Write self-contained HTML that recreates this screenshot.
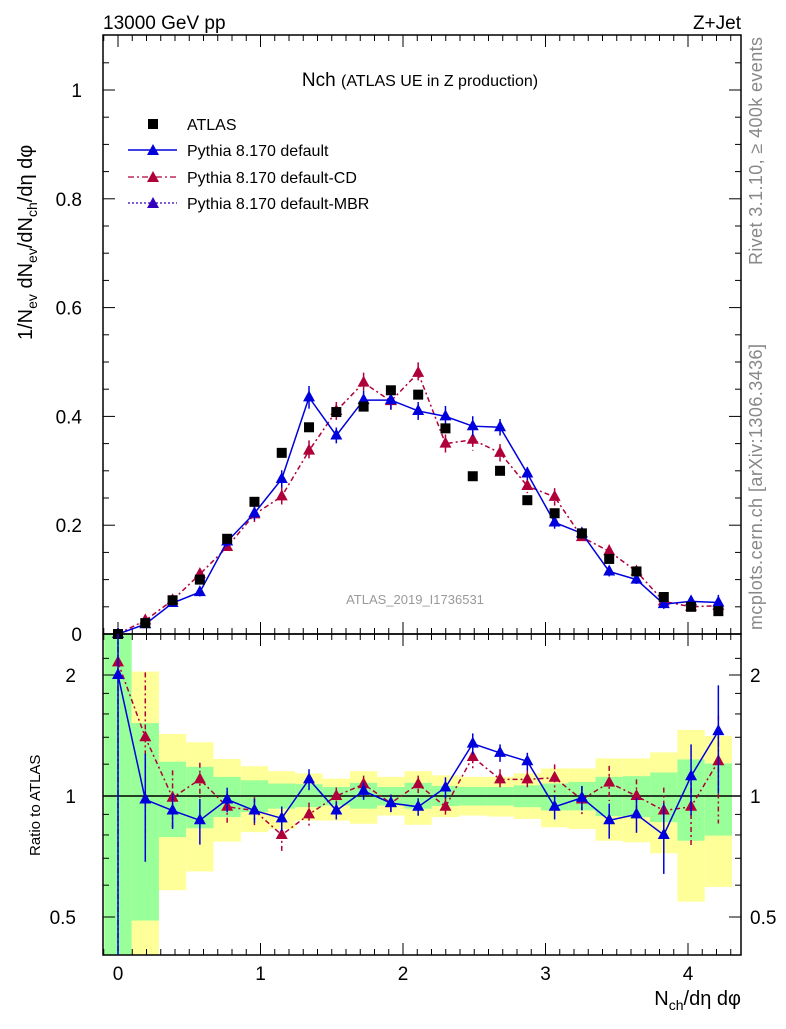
<!DOCTYPE html>
<html><head><meta charset="utf-8"><style>
body{margin:0;background:#fff;}
svg text{font-family:"Liberation Sans",sans-serif;}
</style></head><body>
<svg id="c" width="786" height="1024" viewBox="0 0 786 1024" xmlns="http://www.w3.org/2000/svg">
<text x="103" y="29" font-size="19">13000 GeV pp</text>
<text x="741" y="29" font-size="19" text-anchor="end">Z+Jet</text>
<text x="420" y="86" font-size="19" text-anchor="middle">Nch <tspan font-size="16">(ATLAS UE in Z production)</tspan></text>
<text x="415" y="604" font-size="13" fill="#999" text-anchor="middle">ATLAS_2019_I1736531</text>
<text transform="translate(762,265) rotate(-90)" font-size="18" fill="#888" textLength="228">Rivet 3.1.10, ≥ 400k events</text>
<text transform="translate(762,630) rotate(-90)" font-size="18" fill="#888" textLength="286">mcplots.cern.ch [arXiv:1306.3436]</text>
<text transform="translate(32,340) rotate(-90)" font-size="20">1/N<tspan font-size="14" dy="5">ev</tspan><tspan dy="-5"> dN</tspan><tspan font-size="14" dy="5">ev</tspan><tspan dy="-5">/dN</tspan><tspan font-size="14" dy="5">ch</tspan><tspan dy="-5">/dη dφ</tspan></text>
<text transform="translate(40,856) rotate(-90)" font-size="15">Ratio to ATLAS</text>
<text x="741" y="1005" font-size="20" text-anchor="end">N<tspan font-size="14" dy="5">ch</tspan><tspan dy="-5">/dη dφ</tspan></text>
<g id="legend">
<rect x="148" y="119" width="10" height="10" fill="#000"/>
<text x="187" y="130" font-size="16">ATLAS</text>
<line x1="128" y1="150" x2="177" y2="150" stroke="#0000dd" stroke-width="1.5"/>
<polygon points="153,144 147,155 159,155" fill="#0000dd"/>
<text x="187" y="156" font-size="16">Pythia 8.170 default</text>
<line x1="128" y1="177" x2="177" y2="177" stroke="#b0003a" stroke-width="1.2" stroke-dasharray="6,3,2,3"/>
<polygon points="153,171 147,182 159,182" fill="#b0003a"/>
<text x="187" y="183" font-size="16">Pythia 8.170 default-CD</text>
<line x1="128" y1="203" x2="177" y2="203" stroke="#3300bb" stroke-width="1.2" stroke-dasharray="2,2"/>
<polygon points="153,197 147,208 159,208" fill="#3300bb"/>
<text x="187" y="209" font-size="16">Pythia 8.170 default-MBR</text>
</g>
<g id="g"></g>
</svg>
<script>
const step = 0.1915;
const atlas = [0.0,0.02,0.062,0.1,0.175,0.243,0.333,0.38,0.408,0.418,0.448,0.44,0.378,0.29,0.3,0.246,0.222,0.185,0.138,0.115,0.068,0.05,0.042];
const pyDefault = [0.0,0.018,0.057,0.077,0.17,0.222,0.285,0.435,0.365,0.43,0.43,0.41,0.4,0.382,0.38,0.295,0.205,0.185,0.115,0.1,0.055,0.06,0.058];
const pyCD = [0.0,0.025,0.062,0.11,0.16,0.22,0.253,0.337,0.41,0.462,0.428,0.48,0.35,0.357,0.333,0.272,0.252,0.178,0.152,0.115,0.06,0.05,0.052];
const ratioDefault = [2.0,0.98,0.92,0.87,0.98,0.92,0.88,1.1,0.92,1.03,0.96,0.94,1.05,1.35,1.28,1.22,0.94,0.99,0.87,0.9,0.8,1.12,1.45];
const ratioCD = [2.15,1.4,0.99,1.1,0.94,0.92,0.8,0.9,1.0,1.07,0.96,1.07,0.94,1.25,1.1,1.1,1.11,0.98,1.08,1.0,0.92,0.94,1.22];
const errDefault = [1.5,0.3,0.1,0.13,0.07,0.07,0.07,0.06,0.05,0.05,0.05,0.05,0.06,0.06,0.05,0.05,0.07,0.07,0.1,0.1,0.2,0.2,0.3];
const errCD = [1.5,0.45,0.17,0.1,0.09,0.08,0.09,0.07,0.05,0.05,0.05,0.05,0.06,0.07,0.06,0.06,0.08,0.08,0.1,0.1,0.14,0.2,0.3];
const yellowHi = [3,2.04,1.427,1.36,1.236,1.186,1.153,1.138,1.105,1.153,1.116,1.153,1.126,1.116,1.116,1.138,1.171,1.171,1.24,1.24,1.284,1.46,1.41];
const greenHi = [3,1.518,1.217,1.182,1.116,1.094,1.074,1.07,1.053,1.078,1.053,1.078,1.059,1.053,1.053,1.063,1.074,1.084,1.116,1.12,1.144,1.233,1.205];
const greenLo = [0.3,0.49,0.79,0.831,0.886,0.912,0.93,0.938,0.947,0.93,0.947,0.93,0.944,0.947,0.947,0.938,0.921,0.921,0.891,0.886,0.861,0.774,0.797];
const yellowLo = [0.3,0.3,0.583,0.649,0.77,0.813,0.828,0.869,0.869,0.853,0.894,0.848,0.886,0.894,0.889,0.877,0.836,0.828,0.774,0.767,0.72,0.546,0.594];
const mainTicks = [0,0.2,0.4,0.6,0.8,1];
const mainTickLabels = ["0","0.2","0.4","0.6","0.8","1"];
const xTicks = [0,1,2,3,4];
const ratioTicks = [0.5,1,2];

const NS="http://www.w3.org/2000/svg";
const g=document.getElementById('g');
const L=103,R=741,T=35,MB=634,RB=955;
const X=v=>118+v*142.5;
const Y=v=>634-v*544;
const RY=v=>796-Math.log2(v)*121;
const clampR=y=>Math.max(MB,Math.min(RB,y));
function el(tag,attrs,name){const e=document.createElementNS(NS,tag);for(const k in attrs)e.setAttribute(k,attrs[k]);


g.appendChild(e);return e;}
for(let i=0;i<atlas.length;i++){
 const x0=Math.max(L,X(i*step-step/2)), x1=X(i*step+step/2);
 let a=clampR(RY(yellowHi[i])),b=clampR(RY(yellowLo[i]));
 el('rect',{x:x0,y:a,width:x1-x0,height:b-a,fill:'#ffff99'},'yellow-band');
 a=clampR(RY(greenHi[i]));b=clampR(RY(greenLo[i]));
 el('rect',{x:x0,y:a,width:x1-x0,height:b-a,fill:'#99ff99'},'green-band');
}
el('line',{x1:L,y1:796,x2:R,y2:796,stroke:'#000','stroke-width':1.5},'ratio-unity-line');
el('rect',{x:L,y:T,width:R-L,height:MB-T,fill:'none',stroke:'#000','stroke-width':1.5},'main-frame');
el('rect',{x:L,y:MB,width:R-L,height:RB-MB,fill:'none',stroke:'#000','stroke-width':1.5},'ratio-frame');
for(let v=-0.1;v<=4.35;v+=0.1){const major=Math.abs(v-Math.round(v))<0.01;const len=major?12:6;const x=X(v);if(x<L||x>R)continue;
 for(const [y0,d] of [[MB,-1],[T,1],[RB,-1],[MB,1]]) el('line',{x1:x,y1:y0,x2:x,y2:y0+d*len,stroke:'#000'},'x-tick');}
xTicks.forEach(v=>{const t=el('text',{x:X(v),y:980,'font-size':19,'text-anchor':'middle'},'x-tick-label');t.textContent=v;});
for(let v=0;v<=1.1;v+=0.05){const major=Math.abs(v*5-Math.round(v*5))<0.01;const len=major?12:6;const y=Y(v);
 el('line',{x1:L,y1:y,x2:L+len,y2:y,stroke:'#000'},'y-tick');el('line',{x1:R,y1:y,x2:R-len,y2:y,stroke:'#000'},'y-tick');}
mainTicks.forEach((v,i)=>{const t=el('text',{x:82,y:Y(v)+7,'font-size':19,'text-anchor':'end'},'y-tick-label');t.textContent=mainTickLabels[i];});
[0.4,0.5,0.6,0.7,0.8,0.9,1,1.2,1.4,1.6,1.8,2,2.2].forEach(v=>{const y=RY(v);if(y<MB||y>RB)return;const len=ratioTicks.includes(v)?12:6;
 el('line',{x1:L,y1:y,x2:L+len,y2:y,stroke:'#000'},'ratio-tick');el('line',{x1:R,y1:y,x2:R-len,y2:y,stroke:'#000'},'ratio-tick');});
ratioTicks.forEach(v=>{let t=el('text',{x:76,y:RY(v)+7,'font-size':19,'text-anchor':'end'},'ratio-tick-label');t.textContent=v;
 t=el('text',{x:750,y:RY(v)+7,'font-size':19},'ratio-tick-label-right');t.textContent=v;});
function tri(x,y,c,name){el('polygon',{points:`${x},${y-7} ${x-6},${y+4} ${x+6},${y+4}`,fill:c},name);}
function series(vals,errs,Yf,color,dash,name,isRatio){
 const pts=vals.map((v,i)=>[X(i*step),Yf(v)]);
 el('polyline',{points:pts.map(p=>p.join(',')).join(' '),fill:'none',stroke:color,'stroke-width':1.5,'stroke-dasharray':dash},name+'-line');
 vals.forEach((v,i)=>{const x=X(i*step);let a,b,y;
  if(isRatio){a=clampR(Yf(v*(1+errs[i])));b=clampR(Yf(Math.max(0.01,v*(1-errs[i]))));y=clampR(Yf(v));}
  else{a=Yf(v*(1+errs[i]*0.8));b=Yf(v*(1-errs[i]*0.8));y=Yf(v);}
  el('line',{x1:x,y1:a,x2:x,y2:b,stroke:color,'stroke-width':1.5,'stroke-dasharray':dash},name+'-errorbar');
  tri(x,y,color,name+'-point');});
}
series(pyCD,errCD,Y,'#b0003a','5,3,2,3','cd',false);
series(pyDefault,errDefault,Y,'#0000dd','','default',false);
atlas.forEach((v,i)=>el('rect',{x:X(i*step)-5,y:Y(v)-5,width:10,height:10,fill:'#000'},'atlas-point'));
series(ratioCD,errCD,RY,'#b0003a','5,3,2,3','ratio-cd',true);
series(ratioDefault,errDefault,RY,'#0000dd','','ratio-default',true);
</script>
</body></html>
